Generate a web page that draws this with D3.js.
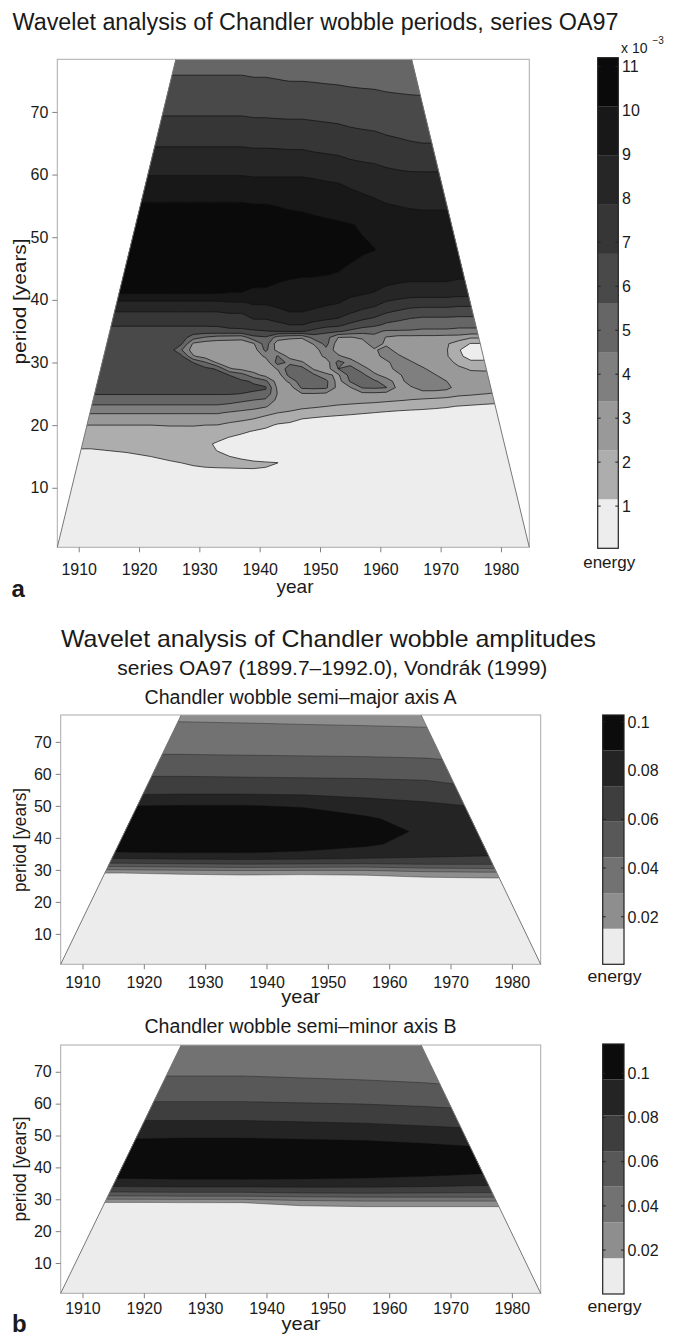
<!DOCTYPE html>
<html>
<head>
<meta charset="utf-8">
<script src="https://cdn.jsdelivr.net/npm/d3@7"></script>
<style>
  body { margin: 0; background: #fff; }
  text { font-family: "Liberation Sans", Arial, Helvetica, sans-serif; fill: #1a1a1a; }
</style>
</head>
<body>
<svg id="fig" width="678" height="1339"></svg>
<script>
// ---------- shared axes ----------
const yearTicks = [1910, 1920, 1930, 1940, 1950, 1960, 1970, 1980];
const periodTicks = [10, 20, 30, 40, 50, 60, 70];
const yearDomain = [1906.45, 1984.7];
const periodDomain = [0.5, 78.4];

// cone of influence (period -> first / last valid epoch)
const conePeriods = [0.5, 78.4];
const coneLeftYears = [1906.45, 1926.1];
const coneRightYears = [1984.7, 1965.2];

// ---------- (a) wavelet energy of the period series, units of 1e-3 ----------
const epochsA = [1904, 1912, 1918, 1922, 1925, 1927, 1929, 1931, 1933, 1935, 1937, 1939, 1941, 1943, 1945,
  1947, 1949, 1951, 1953, 1955, 1957, 1959, 1961, 1963, 1965, 1967, 1969, 1971, 1973, 1975, 1977, 1979, 1982, 1987];
const periodsA = [-1, 8, 12, 13, 14, 15, 16, 17, 18, 19, 20, 21, 22, 23, 24, 25, 26, 27, 28, 29, 30, 31, 32, 33, 34,
  35, 36, 37, 38, 39.5, 41, 44, 48, 52, 55.5, 59.5, 64, 69, 75, 80];
// one profile per epoch, sampled at periodsA
const energyA = [
  [0.05, 0.2, 0.5, 0.6, 0.75, 0.9, 1.1, 1.35, 1.65, 1.95, 2.27, 2.85, 3.5, 4.35, 5.0, 5.7, 6.1, 6.2, 6.25, 6.3, 6.3, 6.3, 6.3, 6.3, 6.3, 6.3, 6.85, 7.1, 7.8, 8.7, 10.1, 10.7, 11.0, 10.8, 10.1, 9.05, 7.95, 6.8, 5.75, 5.0],
  [0.05, 0.2, 0.5, 0.6, 0.75, 0.9, 1.1, 1.35, 1.65, 1.95, 2.27, 2.85, 3.5, 4.35, 5.0, 5.7, 6.1, 6.2, 6.25, 6.3, 6.3, 6.3, 6.3, 6.3, 6.3, 6.3, 6.85, 7.1, 7.8, 8.7, 10.1, 10.7, 11.0, 10.8, 10.1, 9.05, 7.95, 6.8, 5.75, 5.0],
  [0.05, 0.2, 0.55, 0.7, 0.85, 1.0, 1.25, 1.5, 1.75, 2.0, 2.27, 2.85, 3.5, 4.35, 5.0, 5.7, 6.1, 6.2, 6.25, 6.3, 6.3, 6.3, 6.3, 6.3, 6.3, 6.3, 6.85, 7.1, 7.8, 8.7, 10.1, 10.7, 11.0, 10.8, 10.1, 9.05, 7.95, 6.8, 5.75, 5.0],
  [0.05, 0.2, 0.6, 0.8, 0.95, 1.16, 1.4, 1.6, 1.8, 2.05, 2.27, 2.85, 3.5, 4.35, 5.0, 5.7, 6.1, 6.2, 6.25, 6.3, 6.3, 6.3, 6.3, 6.3, 6.3, 6.3, 6.85, 7.1, 7.8, 8.7, 10.1, 10.7, 11.0, 10.8, 10.1, 9.05, 7.95, 6.8, 5.75, 5.0],
  [0.05, 0.2, 0.7, 0.9, 1.08, 1.3, 1.5, 1.7, 1.9, 2.1, 2.3, 2.85, 3.5, 4.35, 5.0, 5.7, 6.1, 6.2, 6.25, 6.3, 6.3, 6.3, 6.25, 6.3, 6.3, 6.3, 6.85, 7.1, 7.8, 8.7, 10.1, 10.7, 11.0, 10.8, 10.1, 9.05, 7.95, 6.8, 5.75, 5.0],
  [0.05, 0.2, 0.75, 0.95, 1.16, 1.35, 1.55, 1.75, 1.95, 2.1, 2.3, 2.85, 3.5, 4.35, 5.0, 5.7, 6.1, 6.2, 6.2, 6.2, 6.1, 5.9, 4.6, 5.8, 6.2, 6.3, 6.85, 7.1, 7.8, 8.7, 10.1, 10.7, 11.0, 10.8, 10.1, 9.05, 7.95, 6.8, 5.75, 5.0],
  [0.05, 0.2, 0.85, 1.05, 1.25, 1.4, 1.55, 1.75, 1.95, 2.12, 2.3, 2.85, 3.5, 4.35, 5.0, 5.7, 6.1, 6.2, 6.2, 6.1, 5.6, 3.5, 2.8, 3.2, 5.0, 6.3, 6.85, 7.1, 7.8, 8.7, 10.1, 10.7, 11.0, 10.8, 10.1, 9.05, 7.95, 6.8, 5.75, 5.0],
  [0.05, 0.2, 0.9, 1.1, 1.3, 1.35, 1.3, 1.3, 1.55, 1.95, 2.27, 2.85, 3.5, 4.35, 5.0, 5.7, 6.1, 6.2, 6.15, 5.9, 4.6, 2.9, 2.7, 2.8, 4.4, 6.3, 6.85, 7.1, 7.8, 8.7, 10.1, 10.7, 11.0, 10.8, 10.1, 9.05, 7.95, 6.8, 5.75, 5.0],
  [0.05, 0.2, 0.95, 1.12, 1.3, 1.25, 1.14, 1.05, 1.35, 1.8, 2.25, 2.85, 3.5, 4.35, 5.0, 5.7, 6.1, 6.15, 6.0, 5.5, 3.2, 2.75, 2.7, 2.75, 4.0, 6.4, 6.85, 7.1, 7.8, 8.7, 10.1, 10.7, 11.0, 10.8, 10.1, 9.05, 7.95, 6.8, 5.75, 5.0],
  [0.05, 0.2, 0.95, 1.13, 1.3, 1.16, 0.95, 0.95, 1.12, 1.5, 2.05, 2.6, 3.3, 4.2, 4.9, 5.7, 6.05, 6.0, 5.6, 3.5, 2.75, 2.7, 2.7, 2.75, 3.9, 6.5, 7.0, 7.3, 7.95, 8.85, 10.05, 10.65, 11.0, 10.8, 10.1, 9.05, 7.95, 6.8, 5.75, 5.0],
  [0.05, 0.2, 0.95, 1.14, 1.3, 1.05, 0.85, 0.85, 0.95, 1.3, 1.9, 2.45, 3.1, 4.0, 4.7, 5.6, 5.95, 5.8, 5.0, 3.1, 2.7, 2.7, 2.7, 2.75, 3.8, 6.55, 7.0, 7.3, 7.95, 8.85, 10.05, 10.65, 11.0, 10.8, 10.1, 9.05, 7.95, 6.8, 5.75, 5.0],
  [0.05, 0.2, 0.95, 1.15, 1.25, 0.9, 0.75, 0.75, 0.85, 1.1, 1.6, 2.27, 2.9, 3.8, 4.5, 5.5, 5.8, 5.5, 3.8, 2.8, 2.7, 2.7, 2.8, 3.3, 5.3, 6.6, 7.3, 7.9, 8.4, 9.1, 9.9, 10.5, 10.9, 10.7, 10.05, 9.0, 7.9, 6.75, 5.7, 4.95],
  [0.05, 0.2, 0.95, 1.14, 1.2, 0.85, 0.7, 0.7, 0.75, 0.95, 1.35, 1.95, 2.6, 3.5, 4.3, 5.3, 5.75, 4.8, 3.0, 2.7, 2.7, 3.6, 4.8, 5.1, 5.5, 6.7, 7.3, 7.9, 8.4, 9.1, 9.9, 10.5, 10.9, 10.7, 10.05, 9.0, 7.9, 6.75, 5.7, 4.95],
  [0.05, 0.2, 0.9, 1.05, 1.16, 0.8, 0.65, 0.65, 0.7, 0.85, 1.05, 1.6, 2.3, 2.8, 3.1, 3.3, 3.1, 2.8, 2.8, 3.5, 5.0, 4.6, 2.9, 2.7, 4.0, 6.8, 7.6, 8.15, 8.7, 9.25, 9.8, 10.3, 10.7, 10.5, 10.0, 9.0, 7.88, 6.72, 5.65, 4.92],
  [0.05, 0.2, 0.8, 0.8, 0.8, 0.75, 0.65, 0.65, 0.7, 0.8, 0.95, 1.44, 2.14, 2.7, 2.8, 2.8, 2.9, 3.6, 5.0, 5.2, 4.2, 2.9, 2.7, 2.7, 3.6, 6.9, 7.85, 8.4, 8.95, 9.4, 9.75, 10.2, 10.5, 10.35, 9.95, 9.0, 7.85, 6.7, 5.6, 4.9],
  [0.05, 0.2, 0.75, 0.75, 0.75, 0.7, 0.65, 0.65, 0.7, 0.8, 0.85, 1.16, 1.85, 2.55, 2.85, 3.3, 4.7, 5.3, 5.35, 5.0, 3.5, 2.8, 2.7, 2.7, 3.5, 6.9, 7.85, 8.4, 8.95, 9.4, 9.7, 10.15, 10.5, 10.35, 9.9, 9.0, 7.85, 6.7, 5.6, 4.9],
  [0.05, 0.2, 0.7, 0.7, 0.7, 0.7, 0.65, 0.65, 0.7, 0.75, 0.8, 1.02, 1.72, 2.42, 2.85, 3.3, 4.8, 5.1, 4.7, 3.2, 2.75, 2.7, 2.8, 3.5, 5.0, 6.4, 7.5, 8.2, 8.8, 9.25, 9.6, 10.15, 10.45, 10.3, 9.8, 8.93, 7.75, 6.65, 5.57, 4.88],
  [0.05, 0.2, 0.7, 0.7, 0.7, 0.7, 0.65, 0.65, 0.7, 0.7, 0.75, 0.9, 1.58, 2.28, 2.8, 3.2, 4.7, 4.8, 3.6, 2.8, 2.75, 3.7, 4.2, 4.9, 5.0, 5.9, 7.2, 8.0, 8.65, 9.1, 9.5, 10.1, 10.4, 10.25, 9.7, 8.85, 7.68, 6.6, 5.53, 4.86],
  [0.05, 0.2, 0.7, 0.7, 0.7, 0.7, 0.65, 0.65, 0.7, 0.7, 0.72, 0.85, 1.44, 2.14, 2.75, 2.85, 3.0, 2.9, 3.2, 4.5, 4.9, 3.6, 2.8, 2.75, 3.4, 5.8, 7.0, 7.8, 8.5, 9.0, 9.4, 10.05, 10.35, 10.2, 9.6, 8.8, 7.6, 6.55, 5.5, 4.85],
  [0.05, 0.2, 0.7, 0.7, 0.7, 0.7, 0.65, 0.65, 0.7, 0.7, 0.72, 0.82, 1.33, 2.03, 2.7, 2.85, 3.3, 4.6, 4.9, 4.9, 4.1, 2.9, 2.7, 2.7, 3.3, 5.4, 6.5, 7.3, 7.95, 8.65, 9.2, 9.95, 10.25, 10.12, 9.45, 8.6, 7.45, 6.45, 5.45, 4.83],
  [0.05, 0.2, 0.7, 0.7, 0.7, 0.7, 0.65, 0.65, 0.7, 0.7, 0.72, 0.8, 1.23, 1.93, 2.63, 3.1, 4.6, 4.8, 4.8, 4.0, 2.9, 2.7, 2.7, 2.8, 3.6, 5.0, 6.1, 6.9, 7.6, 8.4, 9.05, 9.8, 10.17, 10.02, 9.25, 8.5, 7.35, 6.4, 5.42, 4.8],
  [0.05, 0.2, 0.7, 0.7, 0.7, 0.7, 0.65, 0.65, 0.7, 0.7, 0.72, 0.78, 1.16, 1.86, 2.56, 3.1, 4.7, 4.7, 3.7, 2.8, 2.7, 2.75, 3.2, 4.1, 4.3, 4.7, 5.9, 6.6, 7.3, 8.2, 8.9, 9.65, 10.1, 9.9, 9.1, 8.4, 7.3, 6.35, 5.4, 4.8],
  [0.05, 0.2, 0.7, 0.7, 0.7, 0.7, 0.65, 0.65, 0.7, 0.7, 0.72, 0.76, 1.05, 1.75, 2.45, 3.0, 4.55, 4.0, 2.85, 2.7, 3.0, 4.1, 3.9, 3.1, 3.3, 4.4, 5.4, 6.1, 6.8, 7.7, 8.6, 9.5, 9.95, 9.7, 8.95, 8.25, 7.15, 6.25, 5.35, 4.8],
  [0.05, 0.2, 0.7, 0.7, 0.7, 0.7, 0.65, 0.65, 0.7, 0.7, 0.72, 0.75, 0.95, 1.65, 2.35, 2.8, 3.0, 2.8, 3.1, 4.0, 4.3, 3.6, 2.8, 2.7, 3.0, 4.4, 5.2, 5.85, 6.55, 7.45, 8.45, 9.4, 9.9, 9.6, 8.85, 8.15, 7.05, 6.2, 5.32, 4.8],
  [0.05, 0.2, 0.7, 0.7, 0.7, 0.7, 0.65, 0.65, 0.7, 0.7, 0.72, 0.75, 0.9, 1.54, 2.24, 2.75, 3.2, 4.0, 4.3, 4.2, 3.6, 2.8, 2.7, 2.7, 3.0, 4.4, 5.0, 5.6, 6.3, 7.25, 8.3, 9.35, 9.85, 9.55, 8.75, 8.1, 6.95, 6.15, 5.3, 4.8],
  [0.05, 0.2, 0.7, 0.7, 0.7, 0.7, 0.65, 0.65, 0.7, 0.7, 0.72, 0.75, 0.88, 1.43, 2.13, 2.9, 3.9, 4.25, 4.2, 3.6, 2.8, 2.7, 2.65, 2.65, 3.0, 4.3, 4.9, 5.45, 6.2, 7.2, 8.3, 9.35, 9.8, 9.5, 8.7, 8.1, 6.9, 6.1, 5.3, 4.8],
  [0.05, 0.2, 0.7, 0.7, 0.7, 0.7, 0.65, 0.65, 0.7, 0.7, 0.72, 0.75, 0.85, 1.33, 2.03, 2.9, 3.9, 4.1, 3.5, 2.8, 2.6, 2.5, 2.45, 2.5, 3.0, 4.3, 4.9, 5.45, 6.2, 7.2, 8.3, 9.35, 9.8, 9.5, 8.7, 8.1, 6.9, 6.1, 5.3, 4.8],
  [0.05, 0.2, 0.7, 0.7, 0.7, 0.7, 0.65, 0.65, 0.7, 0.7, 0.72, 0.75, 0.85, 1.23, 1.93, 2.8, 3.7, 3.4, 2.7, 2.5, 2.5, 2.4, 2.35, 2.4, 2.9, 4.3, 4.9, 5.45, 6.2, 7.2, 8.3, 9.35, 9.8, 9.5, 8.7, 8.1, 6.9, 6.1, 5.3, 4.8],
  [0.05, 0.2, 0.7, 0.7, 0.7, 0.7, 0.65, 0.65, 0.7, 0.7, 0.72, 0.75, 0.85, 1.12, 1.82, 2.5, 2.9, 2.7, 2.55, 2.4, 2.1, 1.3, 1.2, 1.7, 2.9, 4.2, 4.8, 5.4, 6.1, 7.1, 8.2, 9.2, 9.6, 9.3, 8.5, 7.9, 6.7, 5.9, 5.1, 4.6],
  [0.05, 0.2, 0.7, 0.7, 0.7, 0.7, 0.65, 0.65, 0.7, 0.7, 0.72, 0.75, 0.85, 1.03, 1.72, 2.42, 2.8, 2.6, 2.45, 2.2, 1.3, 0.9, 0.85, 1.1, 2.4, 4.2, 4.8, 5.4, 6.1, 7.1, 8.2, 9.2, 9.6, 9.3, 8.5, 7.9, 6.7, 5.9, 5.1, 4.6],
  [0.05, 0.2, 0.7, 0.7, 0.7, 0.7, 0.65, 0.65, 0.7, 0.7, 0.72, 0.75, 0.85, 0.95, 1.61, 2.3, 2.7, 2.55, 2.4, 2.2, 1.3, 0.9, 0.85, 1.1, 2.4, 4.2, 4.8, 5.4, 6.1, 7.1, 8.2, 9.2, 9.6, 9.3, 8.5, 7.9, 6.7, 5.9, 5.1, 4.6],
  [0.05, 0.2, 0.7, 0.7, 0.7, 0.7, 0.65, 0.65, 0.7, 0.7, 0.72, 0.75, 0.82, 0.9, 1.5, 2.2, 2.6, 2.5, 2.4, 2.2, 1.5, 1.2, 1.2, 1.4, 2.4, 4.2, 4.8, 5.4, 6.1, 7.1, 8.2, 9.2, 9.6, 9.3, 8.5, 7.9, 6.7, 5.9, 5.1, 4.6],
  [0.05, 0.2, 0.7, 0.7, 0.7, 0.7, 0.65, 0.65, 0.7, 0.7, 0.72, 0.75, 0.8, 0.85, 1.4, 2.1, 2.5, 2.5, 2.4, 2.2, 1.6, 1.4, 1.4, 1.6, 2.4, 4.2, 4.8, 5.4, 6.1, 7.1, 8.2, 9.2, 9.6, 9.3, 8.5, 7.9, 6.7, 5.9, 5.1, 4.6],
  [0.05, 0.2, 0.7, 0.7, 0.7, 0.7, 0.65, 0.65, 0.7, 0.7, 0.72, 0.75, 0.8, 0.85, 1.4, 2.1, 2.5, 2.5, 2.4, 2.2, 1.6, 1.4, 1.4, 1.6, 2.4, 4.2, 4.8, 5.4, 6.1, 7.1, 8.2, 9.2, 9.6, 9.3, 8.5, 7.9, 6.7, 5.9, 5.1, 4.6]
];
const levelsA = [0.04, 1.156, 2.272, 3.388, 4.504, 5.62, 6.736, 7.852, 8.968, 10.084, 11.2];
const colorsA = ["#ededed", "#adadad", "#999999", "#7f7f7f", "#666666", "#494949", "#363636", "#262626", "#181818", "#0a0a0a"];
const cbarTicksA = [1, 2, 3, 4, 5, 6, 7, 8, 9, 10, 11];

// ---------- (b) wavelet energy of the ellipse semi-axes ----------
const yearsB = [1904, 1916, 1926, 1936, 1946, 1956, 1966, 1976, 1987];
const periodsB = [-1, 10, 20, 25, 27, 28, 29, 30, 31, 32, 33.5, 35.5, 38, 42, 46, 50, 53, 56, 59, 62.5, 66, 71, 76, 80];
// one row per period, one column per epoch
const energyMajor = [
  [0.0002, 0.0002, 0.0002, 0.0002, 0.0002, 0.0002, 0.0002, 0.0002, 0.0002],
  [0.0005, 0.0005, 0.0005, 0.0005, 0.0005, 0.0005, 0.0005, 0.0005, 0.0005],
  [0.002, 0.002, 0.002, 0.002, 0.002, 0.002, 0.002, 0.002, 0.002],
  [0.005, 0.005, 0.005, 0.006, 0.006, 0.0055, 0.006, 0.0065, 0.0065],
  [0.008, 0.008, 0.009, 0.010, 0.0095, 0.0095, 0.0115, 0.0125, 0.0125],
  [0.011, 0.011, 0.0125, 0.0135, 0.013, 0.0135, 0.0165, 0.018, 0.018],
  [0.015, 0.015, 0.0165, 0.0175, 0.017, 0.018, 0.024, 0.026, 0.026],
  [0.029, 0.029, 0.031, 0.033, 0.032, 0.032, 0.037, 0.039, 0.039],
  [0.044, 0.044, 0.046, 0.048, 0.047, 0.046, 0.050, 0.051, 0.051],
  [0.058, 0.058, 0.060, 0.062, 0.061, 0.060, 0.062, 0.062, 0.062],
  [0.073, 0.073, 0.075, 0.076, 0.075, 0.073, 0.072, 0.071, 0.071],
  [0.088, 0.088, 0.089, 0.089, 0.087, 0.084, 0.079, 0.077, 0.077],
  [0.096, 0.096, 0.097, 0.097, 0.095, 0.090, 0.084, 0.080, 0.080],
  [0.100, 0.100, 0.102, 0.1025, 0.0995, 0.094, 0.086, 0.081, 0.081],
  [0.098, 0.098, 0.099, 0.099, 0.096, 0.090, 0.083, 0.078, 0.078],
  [0.088, 0.088, 0.089, 0.089, 0.087, 0.082, 0.077, 0.072, 0.072],
  [0.075, 0.075, 0.076, 0.076, 0.075, 0.072, 0.069, 0.064, 0.064],
  [0.066, 0.066, 0.066, 0.066, 0.0655, 0.0645, 0.063, 0.058, 0.058],
  [0.0595, 0.0595, 0.0595, 0.059, 0.0585, 0.058, 0.057, 0.053, 0.053],
  [0.052, 0.052, 0.052, 0.0515, 0.051, 0.0505, 0.0495, 0.046, 0.046],
  [0.0445, 0.0445, 0.0445, 0.044, 0.0435, 0.043, 0.042, 0.039, 0.039],
  [0.0365, 0.0365, 0.0365, 0.036, 0.0355, 0.035, 0.034, 0.032, 0.032],
  [0.030, 0.030, 0.030, 0.0296, 0.029, 0.0285, 0.028, 0.026, 0.026],
  [0.026, 0.026, 0.026, 0.0255, 0.025, 0.0245, 0.024, 0.023, 0.023]
];
const energyMinor = [
  [0.0002, 0.0002, 0.0002, 0.0002, 0.0002, 0.0002, 0.0002, 0.0002, 0.0002],
  [0.0005, 0.0005, 0.0005, 0.0005, 0.0005, 0.0005, 0.0005, 0.0005, 0.0005],
  [0.002, 0.002, 0.002, 0.002, 0.002, 0.002, 0.002, 0.002, 0.002],
  [0.005, 0.005, 0.0055, 0.006, 0.0065, 0.007, 0.007, 0.007, 0.007],
  [0.009, 0.009, 0.0095, 0.010, 0.0115, 0.0125, 0.0125, 0.0125, 0.0125],
  [0.012, 0.012, 0.0125, 0.013, 0.0165, 0.018, 0.018, 0.018, 0.018],
  [0.016, 0.016, 0.0165, 0.0165, 0.024, 0.027, 0.027, 0.027, 0.027],
  [0.032, 0.032, 0.033, 0.033, 0.038, 0.040, 0.040, 0.040, 0.040],
  [0.048, 0.048, 0.049, 0.049, 0.052, 0.053, 0.053, 0.053, 0.053],
  [0.062, 0.062, 0.063, 0.063, 0.065, 0.066, 0.065, 0.064, 0.064],
  [0.077, 0.077, 0.078, 0.078, 0.079, 0.079, 0.078, 0.076, 0.076],
  [0.093, 0.093, 0.094, 0.094, 0.094, 0.093, 0.091, 0.088, 0.088],
  [0.103, 0.103, 0.104, 0.104, 0.103, 0.102, 0.100, 0.097, 0.097],
  [0.109, 0.109, 0.110, 0.110, 0.109, 0.1075, 0.105, 0.102, 0.102],
  [0.105, 0.105, 0.106, 0.106, 0.105, 0.1035, 0.101, 0.098, 0.098],
  [0.094, 0.094, 0.095, 0.095, 0.094, 0.093, 0.091, 0.088, 0.088],
  [0.085, 0.085, 0.085, 0.085, 0.084, 0.083, 0.081, 0.078, 0.078],
  [0.078, 0.078, 0.078, 0.078, 0.077, 0.076, 0.074, 0.071, 0.071],
  [0.069, 0.069, 0.069, 0.069, 0.068, 0.067, 0.065, 0.062, 0.062],
  [0.060, 0.060, 0.060, 0.060, 0.059, 0.058, 0.056, 0.053, 0.053],
  [0.053, 0.053, 0.053, 0.053, 0.052, 0.051, 0.0495, 0.047, 0.047],
  [0.045, 0.045, 0.045, 0.045, 0.044, 0.043, 0.042, 0.040, 0.040],
  [0.038, 0.038, 0.038, 0.038, 0.037, 0.036, 0.035, 0.034, 0.034],
  [0.034, 0.034, 0.034, 0.034, 0.033, 0.032, 0.031, 0.030, 0.030]
];
const levelsMajor = [0.0005, 0.0151, 0.0297, 0.0443, 0.0590, 0.0736, 0.0882, 0.1028];
const levelsMinor = [0.0001, 0.0163, 0.0325, 0.0487, 0.0648, 0.0810, 0.0972, 0.1133];
const colorsB = ["#ececec", "#8e8e8e", "#727272", "#585858", "#3e3e3e", "#242424", "#0c0c0c"];
const cbarTicksB = [0.02, 0.04, 0.06, 0.08, 0.1];

// ---------- helpers ----------
const svg = d3.select("#fig");
svg.append("rect").attr("width", 678).attr("height", 1339).attr("fill", "#fff");

function label(parent, s, x, y, o = {}) {
  const t = parent.append("text").attr("x", x).attr("y", y).text(s)
    .attr("font-size", o.size || 16)
    .attr("text-anchor", o.anchor || "start");
  if (o.weight) t.attr("font-weight", o.weight);
  if (o.len) t.attr("textLength", o.len).attr("lengthAdjust", "spacingAndGlyphs");
  if (o.rotate) t.attr("transform", `rotate(${o.rotate},${x},${y})`);
  return t;
}

function drawPanel(cfg) {
  const [l, t, r, b] = cfg.frame;
  const X = d3.scaleLinear().domain(yearDomain).range([l, r]);
  const Y = d3.scaleLinear().domain(periodDomain).range([b, t]);
  const g = svg.append("g");

  // grid index -> epoch / period (piecewise linear over the sample nodes)
  const nx = cfg.years.length, ny = cfg.periods.length;
  const gx = d3.scaleLinear().domain(d3.range(nx)).range(cfg.years).clamp(true);
  const gy = d3.scaleLinear().domain(d3.range(ny)).range(cfg.periods).clamp(true);
  const proj = d3.geoTransform({
    point(px, py) { this.stream.point(X(gx(px - 0.5)), Y(gy(py - 0.5))); }
  });
  const path = d3.geoPath(proj);
  const values = [];
  for (let j = 0; j < ny; j++) for (let i = 0; i < nx; i++) values.push(cfg.value(i, j));
  const bands = d3.contours().size([nx, ny]).thresholds(cfg.levels.slice(1, -1))(values);

  // cone of influence as clip region
  const cone = [
    [X(coneLeftYears[0]), Y(conePeriods[0])],
    [X(coneLeftYears[1]), Y(conePeriods[1])],
    [X(coneRightYears[1]), Y(conePeriods[1])],
    [X(coneRightYears[0]), Y(conePeriods[0])]
  ];
  svg.append("clipPath").attr("id", cfg.id + "-cone")
    .append("path").attr("d", "M" + cone.join("L") + "Z");

  const fills = g.append("g").attr("clip-path", `url(#${cfg.id}-cone)`);
  fills.append("path").attr("d", "M" + cone.join("L") + "Z").attr("fill", cfg.colors[0]);
  fills.selectAll("path.band").data(bands).join("path")
    .attr("class", "band")
    .attr("d", path)
    .attr("fill", (d, i) => cfg.colors[i + 1]);
  fills.selectAll("path.iso").data(bands).join("path")
    .attr("class", "iso")
    .attr("d", path)
    .attr("fill", "none")
    .attr("stroke", "#111")
    .attr("stroke-width", cfg.lineWidth)
    .attr("stroke-opacity", cfg.lineOpacity)
    .attr("stroke-linejoin", "round");

  // frame
  g.append("rect").attr("x", l).attr("y", t).attr("width", r - l).attr("height", b - t)
    .attr("fill", "none").attr("stroke", "#aaa").attr("stroke-width", 1);
  // cone edges
  g.append("path").attr("d", `M${cone[0]}L${cone[1]}M${cone[2]}L${cone[3]}`)
    .attr("fill", "none").attr("stroke", "#777").attr("stroke-width", 1);

  // axes
  const xa = g.append("g").attr("transform", `translate(0,${b})`)
    .call(d3.axisBottom(X).tickValues(yearTicks).tickFormat(d3.format("d"))
      .tickSize(5).tickPadding(cfg.xPad));
  const ya = g.append("g").attr("transform", `translate(${l},0)`)
    .call(d3.axisLeft(Y).tickValues(periodTicks).tickSize(5).tickPadding(4));
  [xa, ya].forEach(a => {
    a.select(".domain").remove();
    a.selectAll(".tick line").attr("stroke", "#808080");
    a.selectAll(".tick text").attr("font-size", 16).attr("fill", "#1a1a1a")
      .attr("font-family", '"Liberation Sans", Arial, sans-serif');
  });

  label(g, "year", cfg.xLabel[0], cfg.xLabel[1], { size: 19, anchor: "middle", len: cfg.xLabel[2] });
  label(g, "period [years]", cfg.yLabel[0], cfg.yLabel[1], { size: cfg.yLabel[3], anchor: "middle", rotate: -90, len: cfg.yLabel[2] });

  // colour bar
  const [cl, ct, cr, cb] = cfg.cbar;
  const C = d3.scaleLinear().domain([cfg.levels[0], cfg.levels[cfg.levels.length - 1]]).range([cb, ct]);
  const cg = svg.append("g");
  cg.selectAll("rect.step").data(d3.pairs(cfg.levels)).join("rect")
    .attr("class", "step")
    .attr("x", cl).attr("width", cr - cl)
    .attr("y", d => C(d[1])).attr("height", d => C(d[0]) - C(d[1]))
    .attr("fill", (d, i) => cfg.colors[i]);
  cg.selectAll("path.ct").data(cfg.cbTicks).join("path")
    .attr("class", "ct")
    .attr("d", d => `M${cl},${C(d)}h3M${cr},${C(d)}h-3`)
    .attr("stroke", "#222").attr("stroke-width", 1);
  cg.append("rect").attr("x", cl).attr("y", ct).attr("width", cr - cl).attr("height", cb - ct)
    .attr("fill", "none").attr("stroke", "#222").attr("stroke-width", 1.2);
  cg.selectAll("text.cl").data(cfg.cbTicks).join("text")
    .attr("class", "cl")
    .attr("x", cfg.cbLabelX).attr("y", d => C(d)).attr("dy", "0.36em")
    .attr("font-size", 16).text(d => d);
  label(cg, "energy", cfg.energy[0], cfg.energy[1], { size: 17, anchor: "middle", len: cfg.energy[2] });
  return cg;
}

// ---------- panel a ----------
label(svg, "Wavelet analysis of Chandler wobble periods, series OA97", 12.5, 29.5, { size: 23, len: 606 });
const cgA = drawPanel({
  id: "pa", frame: [57.3, 59.3, 529.3, 547.3],
  years: epochsA, periods: periodsA, value: (i, j) => energyA[i][j],
  levels: levelsA, colors: colorsA, lineWidth: 0.8, lineOpacity: 0.9,
  xPad: 11, xLabel: [295, 593, 37], yLabel: [26, 301.5, 126, 19],
  cbar: [597.7, 57.7, 618.3, 548.3], cbTicks: cbarTicksA, cbLabelX: 622,
  energy: [609.2, 568, 52]
});
label(cgA, "x 10", 621, 53, { size: 14 });
label(cgA, "\u22123", 652.5, 44, { size: 10 });
label(svg, "a", 11.5, 597, { size: 24, weight: "bold" });

// ---------- panel b ----------
label(svg, "Wavelet analysis of Chandler wobble amplitudes", 61, 646.5, { size: 24, len: 535 });
label(svg, "series OA97 (1899.7\u20131992.0), Vondr\u00e1k (1999)", 117.3, 675, { size: 20, len: 430 });
label(svg, "Chandler wobble semi\u2013major axis A", 144.5, 704, { size: 19.5, len: 312 });
drawPanel({
  id: "pb1", frame: [60.7, 715, 540.7, 964.3],
  years: yearsB, periods: periodsB, value: (i, j) => energyMajor[j][i],
  levels: levelsMajor, colors: colorsB, lineWidth: 0.6, lineOpacity: 0.6,
  xPad: 7.5, xLabel: [300.8, 1003, 39], yLabel: [26, 840, 104, 19],
  cbar: [602.7, 715, 624, 964.3], cbTicks: cbarTicksB, cbLabelX: 627.5,
  energy: [614.5, 982, 54]
});
label(svg, "Chandler wobble semi\u2013minor axis B", 144.5, 1033, { size: 19.5, len: 312 });
drawPanel({
  id: "pb2", frame: [60.7, 1045, 540.7, 1293.3],
  years: yearsB, periods: periodsB, value: (i, j) => energyMinor[j][i],
  levels: levelsMinor, colors: colorsB, lineWidth: 0.6, lineOpacity: 0.6,
  xPad: 4, xLabel: [301, 1330, 39], yLabel: [26, 1169, 105, 19],
  cbar: [602.7, 1044, 624, 1294], cbTicks: cbarTicksB, cbLabelX: 627.5,
  energy: [614.5, 1312, 54]
});
label(svg, "b", 12, 1331.5, { size: 24, weight: "bold" });
</script>
</body>
</html>
